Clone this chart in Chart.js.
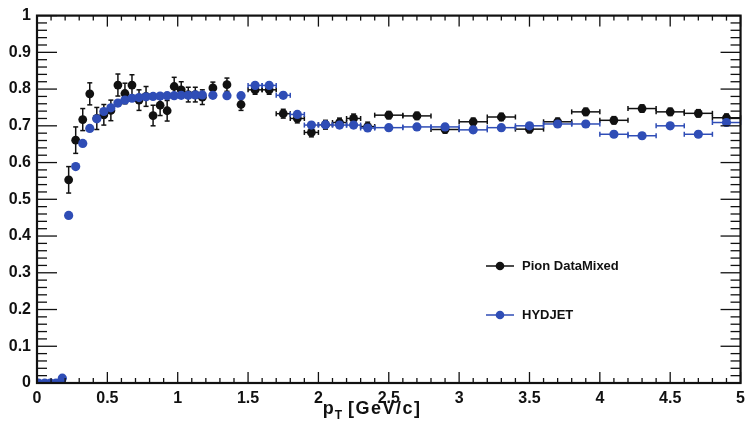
<!DOCTYPE html>
<html>
<head>
<meta charset="utf-8">
<script src="https://cdn.jsdelivr.net/npm/chart.js@4.4.0/dist/chart.umd.min.js"></script>
<style>
html,body{margin:0;padding:0;background:#fff}
#wrap{width:751px;height:423px}
</style>
</head>
<body>
<div id="wrap"><canvas id="c" width="751" height="423"></canvas></div>
<script>
// ===== data =====
const pionX = [0.225,0.275,0.325,0.375,0.425,0.475,0.525,0.575,0.625,0.675,0.725,0.775,0.825,0.875,0.925,0.975,1.025,1.075,1.125,1.175,
  1.25,1.35,1.45,1.55,1.65,1.75,1.85,1.95,2.05,2.15,2.25,2.35,2.5,2.7,2.9,3.1,3.3,3.5,3.7,3.9,4.1,4.3,4.5,4.7,4.9]
const pionY = [0.553,0.661,0.717,0.787,0.72,0.73,0.742,0.811,0.788,0.811,0.77,0.78,0.728,0.756,0.741,0.807,0.798,0.785,0.785,0.778,
  0.803,0.812,0.758,0.798,0.798,0.733,0.72,0.682,0.703,0.709,0.72,0.698,0.729,0.727,0.69,0.711,0.724,0.691,0.711,0.738,0.715,0.747,0.738,0.734,0.722]
const pionYErr = [0.036,0.036,0.03,0.03,0.03,0.028,0.028,0.03,0.028,0.028,0.028,0.027,0.028,0.028,0.028,0.025,0.022,0.02,0.02,0.02,
  0.016,0.018,0.016,0.012,0.012,0.012,0.012,0.012,0.012,0.012,0.012,0.012,0.01,0.01,0.01,0.01,0.01,0.01,0.01,0.01,0.01,0.01,0.01,0.01,0.01]
const pionXErr = [0,0,0,0,0,0,0,0,0,0,0,0,0,0,0,0,0,0,0,0,
  0,0,0,0.05,0.05,0.05,0.05,0.05,0.05,0.05,0.05,0.05,0.1,0.1,0.1,0.1,0.1,0.1,0.1,0.1,0.1,0.1,0.1,0.1,0.1]

const hydX = [0.01,0.055,0.095,0.135,0.18,0.225,0.275,0.325,0.375,0.425,0.475,0.525,0.575,0.625,0.675,0.725,0.775,0.825,0.875,0.925,0.975,1.025,1.075,1.125,1.175,
  1.25,1.35,1.45,1.55,1.65,1.75,1.85,1.95,2.05,2.15,2.25,2.35,2.5,2.7,2.9,3.1,3.3,3.5,3.7,3.9,4.1,4.3,4.5,4.7,4.9]
const hydY = [0,0,0,0,0.013,0.456,0.589,0.652,0.693,0.719,0.739,0.749,0.762,0.77,0.775,0.777,0.779,0.78,0.781,0.782,0.782,0.783,0.783,0.784,0.784,
  0.783,0.782,0.782,0.81,0.81,0.783,0.731,0.702,0.703,0.702,0.702,0.694,0.695,0.697,0.697,0.689,0.695,0.7,0.705,0.705,0.677,0.673,0.7,0.677,0.709]
const hydYErr = [0,0,0,0,0,0,0,0,0,0,0,0,0,0,0,0,0,0,0,0,0,0,0,0,0,
  0,0,0,0.008,0.008,0.008,0.008,0.008,0.008,0.008,0.008,0.008,0.008,0.008,0.008,0.008,0.008,0.008,0.008,0.008,0.008,0.008,0.008,0.008,0.008]
const hydXErr = [0,0,0,0,0,0,0,0,0,0,0,0,0,0,0,0,0,0,0,0,0,0,0,0,0,
  0,0,0,0.05,0.05,0.05,0.05,0.05,0.05,0.05,0.05,0.05,0.1,0.1,0.1,0.1,0.1,0.1,0.1,0.1,0.1,0.1,0.1,0.1,0.1]

const seriesNames = ['Pion DataMixed', 'HYDJET']

const BLACK = '#111111'
const BLUE = '#2f4db6'
const FONT = '"Liberation Sans", Arial, Helvetica, sans-serif'

const toPts = (xs, ys) => xs.map((x, i) => ({ x, y: ys[i] }))
const fmtTick = v => String(Number(v.toFixed(2)))

function seg(ctx, x1, y1, x2, y2) {
  ctx.beginPath(); ctx.moveTo(x1, y1); ctx.lineTo(x2, y2); ctx.stroke()
}

// error bars, drawn under the markers
const errorBars = {
  id: 'errorBars',
  beforeDatasetsDraw(chart) {
    const { ctx, scales: { x, y } } = chart
    const sets = [
      { xs: pionX, ys: pionY, ex: pionXErr, ey: pionYErr, color: BLACK },
      { xs: hydX, ys: hydY, ex: hydXErr, ey: hydYErr, color: BLUE }
    ]
    ctx.save()
    ctx.lineWidth = 1.5
    sets.forEach(s => {
      ctx.strokeStyle = s.color
      s.xs.forEach((xv, i) => {
        const px = x.getPixelForValue(xv), py = y.getPixelForValue(s.ys[i])
        if (s.ey[i]) {
          const t = y.getPixelForValue(s.ys[i] + s.ey[i]), b = y.getPixelForValue(s.ys[i] - s.ey[i])
          seg(ctx, px, t, px, b); seg(ctx, px - 2.5, t, px + 2.5, t); seg(ctx, px - 2.5, b, px + 2.5, b)
        }
        if (s.ex[i]) {
          const l = x.getPixelForValue(xv - s.ex[i]), r = x.getPixelForValue(xv + s.ex[i])
          seg(ctx, l, py, r, py); seg(ctx, l, py - 2.5, l, py + 2.5); seg(ctx, r, py - 2.5, r, py + 2.5)
        }
      })
    })
    ctx.restore()
  }
}

// ROOT-style frame with inward ticks, axis title and legend
const frame = {
  id: 'frame',
  afterDraw(chart) {
    const { ctx, chartArea: a, scales: { x, y } } = chart
    ctx.save()
    ctx.strokeStyle = BLACK
    ctx.lineWidth = 1.3
    for (let i = 0; i <= 50; i++) {
      const py = y.getPixelForValue(i / 50)
      const len = i % 5 === 0 ? 20 : 10
      seg(ctx, a.left, py, a.left + len, py)
      seg(ctx, a.right, py, a.right - len, py)
    }
    for (let i = 0; i <= 50; i++) {
      const px = x.getPixelForValue(i / 10)
      const len = i % 5 === 0 ? 11 : 5
      seg(ctx, px, a.bottom, px, a.bottom - len)
      seg(ctx, px, a.top, px, a.top + len)
    }
    ctx.lineWidth = 2.2
    ctx.strokeRect(a.left, a.top, a.right - a.left, a.bottom - a.top)

    // axis title  p_T [GeV/c]
    ctx.fillStyle = BLACK
    ctx.textBaseline = 'alphabetic'
    ctx.textAlign = 'left'
    let tx = x.getPixelForValue(2.03)
    ctx.font = `bold 18px ${FONT}`
    ctx.fillText('p', tx, 414)
    tx += ctx.measureText('p').width + 1
    ctx.font = `bold 12px ${FONT}`
    ctx.fillText('T', tx, 419)
    tx += ctx.measureText('T').width + 6
    ctx.font = `bold 18px ${FONT}`
    if ('letterSpacing' in ctx) ctx.letterSpacing = '1.5px'
    ctx.fillText('[GeV/c]', tx, 414)
    if ('letterSpacing' in ctx) ctx.letterSpacing = '0px'

    // legend
    const items = [{ c: BLACK, yy: 266 }, { c: BLUE, yy: 315 }]
    items.forEach((it, i) => {
      ctx.strokeStyle = it.c; ctx.fillStyle = it.c; ctx.lineWidth = 1.5
      seg(ctx, 486, it.yy, 514, it.yy)
      ctx.beginPath(); ctx.arc(500, it.yy, 4.3, 0, Math.PI * 2); ctx.fill()
      ctx.fillStyle = BLACK
      ctx.font = `bold 13px ${FONT}`
      ctx.textBaseline = 'middle'
      ctx.fillText(seriesNames[i], 522, it.yy)
    })
    ctx.restore()
  }
}

const tickFont = { family: FONT, size: 16, weight: 'bold' }

new Chart(document.getElementById('c'), {
  type: 'scatter',
  data: {
    datasets: [{
      label: seriesNames[0],
      data: toPts(pionX, pionY),
      backgroundColor: BLACK, borderColor: BLACK,
      pointRadius: 4.4, borderWidth: 0, order: 2
    }, {
      label: seriesNames[1],
      data: toPts(hydX, hydY),
      backgroundColor: BLUE, borderColor: BLUE,
      pointRadius: 4.6, borderWidth: 0, order: 1
    }]
  },
  options: {
    responsive: false, devicePixelRatio: 1, animation: false,
    layout: { padding: { left: 0, top: 12, right: 10, bottom: 0 } },
    plugins: { legend: { display: false }, tooltip: { enabled: false } },
    scales: {
      x: {
        type: 'linear', min: 0, max: 5,
        grid: { display: false, drawTicks: false }, border: { display: false },
        ticks: { stepSize: 0.5, autoSkip: false, maxRotation: 0, color: BLACK, font: tickFont, padding: 6, callback: fmtTick },
        afterFit(s) { s.height = 40 }
      },
      y: {
        type: 'linear', min: 0, max: 1,
        grid: { display: false, drawTicks: false }, border: { display: false },
        ticks: { stepSize: 0.1, color: BLACK, font: tickFont, padding: 6, callback: fmtTick },
        afterFit(s) { s.width = 37 }
      }
    }
  },
  plugins: [errorBars, frame]
})
</script>
</body>
</html>
